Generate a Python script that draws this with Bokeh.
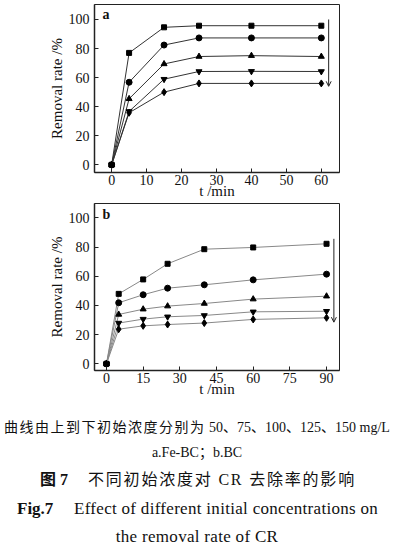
from bokeh.plotting import figure
from bokeh.layouts import column
from bokeh.models import Label, Arrow, OpenHead, FixedTicker, Div
from bokeh.embed import file_html
from bokeh.resources import INLINE

SERIF = "Liberation Serif"

# ---- data panel a (Fe-BC) ----
t_a = [0, 5, 15, 25, 40, 60]
a_50 = [0, 77, 94.6, 95.7, 95.7, 95.7]
a_75 = [0, 56.8, 82.4, 87.3, 87.3, 87.3]
a_100 = [0, 45.4, 69.4, 74.5, 75.1, 74.5]
a_125 = [0, 36.7, 58.9, 64.2, 64.3, 64.2]
a_150 = [0, 35.8, 50.0, 56.0, 56.0, 56.0]
ticks_a_x = [0, 10, 20, 30, 40, 50, 60]

# ---- data panel b (BC) ----
t_b = [0, 5, 15, 25, 40, 60, 90]
b_50 = [0, 47.9, 57.8, 68.5, 78.5, 79.7, 82.2]
b_75 = [0, 41.8, 47.3, 51.8, 54.1, 57.5, 61.4]
b_100 = [0, 33.8, 37.4, 39.5, 41.3, 44.3, 46.3]
b_125 = [0, 27.9, 30.6, 32.2, 33.1, 35.6, 36.0]
b_150 = [0, 23.7, 26.0, 26.9, 27.9, 30.4, 31.5]
ticks_b_x = [0, 15, 30, 45, 60, 75, 90]
ticks_y = [0, 20, 40, 60, 80, 100]

markers = ["square", "circle", "triangle", "inverted_triangle", "diamond"]
msizes = [5, 6, 6, 6, 7]


def style(p, xticks):
    p.outline_line_color = "#222222"
    p.outline_line_width = 1
    p.xgrid.visible = False
    p.ygrid.visible = False
    p.background_fill_color = None
    p.border_fill_color = None
    for ax in (p.xaxis[0], p.yaxis[0]):
        ax.axis_line_color = "#222222"
        ax.axis_line_width = 1.5
        ax.major_tick_in = 4
        ax.major_tick_out = 0
        ax.minor_tick_line_color = None
        ax.major_tick_line_color = "#222222"
        ax.major_label_text_font = SERIF
        ax.major_label_text_font_size = "14px"
        ax.major_label_text_color = "#111111"
        ax.axis_label_text_font = SERIF
        ax.axis_label_text_color = "#111111"
        ax.axis_label_text_font_style = "normal"
        ax.axis_label_text_font_size = "15px"
    p.xaxis[0].ticker = FixedTicker(ticks=xticks)
    p.yaxis[0].ticker = FixedTicker(ticks=ticks_y)
    p.xaxis[0].major_label_standoff = 2
    p.yaxis[0].major_label_standoff = 5
    p.yaxis[0].axis_label = "Removal rate /%"
    p.yaxis[0].axis_label_standoff = 1
    p.xaxis[0].axis_label = "t /min"
    p.xaxis[0].axis_label_standoff = -5


def make_panel(t, series, xr, yr, height, top, bottom, xticks, line_color,
               tag, tag_xy, arrow_xy):
    p = figure(width=394, height=height, x_range=xr, y_range=yr,
               output_backend="svg", toolbar_location=None,
               min_border_left=94, min_border_right=55,
               min_border_top=top, min_border_bottom=bottom)
    style(p, xticks)
    for s, m, ms in zip(series, markers, msizes):
        p.line(t, s, line_color=line_color, line_width=1)
        p.scatter(t, s, marker=m, size=ms, color="black")
    p.add_layout(Label(x=tag_xy[0], y=tag_xy[1], text=tag,
                       text_align="left", text_baseline="middle",
                       text_font=SERIF, text_font_style="bold",
                       text_font_size="14px", text_color="#111111"))
    p.add_layout(Arrow(x_start=arrow_xy[0], y_start=arrow_xy[1],
                       x_end=arrow_xy[0], y_end=arrow_xy[2],
                       line_color="#222222", line_width=1,
                       end=OpenHead(size=5, line_color="#222222", line_width=1)))
    return p


pa = make_panel(t_a, [a_50, a_75, a_100, a_125, a_150],
                (-4.9, 65.2), (-5.3, 110.3), 202, 4, 30, ticks_a_x, "#333333",
                "a", (-2.6, 103.4), (62.1, 100, 54))

pb = make_panel(t_b, [b_50, b_75, b_100, b_125, b_150],
                (-4.9, 95.3), (-4.6, 109.8), 198, 1, 30, ticks_b_x, "#888888",
                "b", (-1.6, 102.3), (93.0, 85.6, 28.5))

# ---- caption ----
FONT = "'Liberation Serif', 'Noto Sans CJK SC', serif"


def line(center, html, size, left=None, spacing=0):
    pos = f"left:{left}px;" if left is not None else "left:0;width:394px;text-align:center;"
    return (f'<div style="position:absolute;{pos}top:{center - 11}px;height:22px;'
            f'line-height:22px;font-size:{size}px;letter-spacing:{spacing}px;'
            f'white-space:nowrap;color:#111;">{html}</div>')


caption_html = (
    f'<div style="position:relative;width:394px;height:151px;font-family:{FONT};">'
    + line(28, '<span style="letter-spacing:1.5px">曲线由上到下初始浓度分别为</span> '
               '50、75、100、125、150 mg/L', 14)
    + line(53, "a.Fe-BC；b.BC", 14)
    + line(80, "<b>图 7</b>", 16, left=40)
    + line(80, "不同初始浓度对 CR 去除率的影响", 16, left=88, spacing=1.8)
    + line(109, "<b>Fig.7</b>", 17, left=17)
    + line(109, "Effect of different initial concentrations on", 17, left=74, spacing=0.3)
    + line(137, "the removal rate of CR", 17, spacing=0.3)
    + "</div>"
)
cap = Div(text=caption_html, width=394, height=151, margin=0)

layout = column(pa, pb, cap, spacing=0)
open("out.html", "w").write(file_html(layout, INLINE))
